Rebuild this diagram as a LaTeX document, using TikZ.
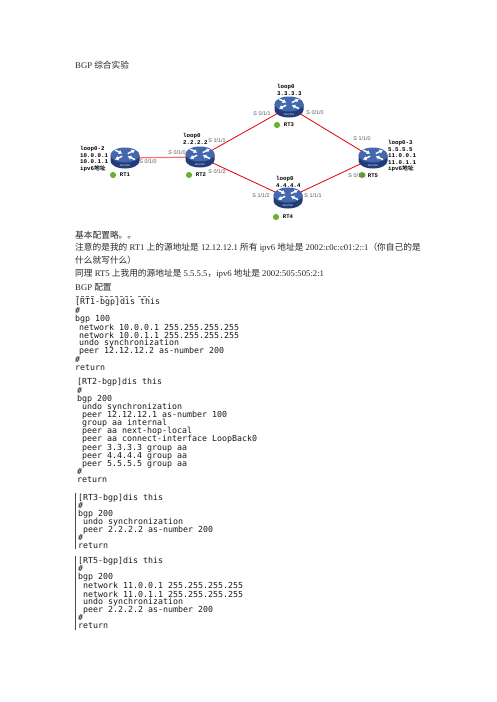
\documentclass[tikz,border=0pt]{standalone}
\usepackage{fontspec}
\usetikzlibrary{arrows.meta}
\setmainfont{Liberation Serif}
\newfontfamily\cjkf{Noto Sans CJK SC}
\newfontfamily\cjkb{Noto Sans CJK SC}[BoldFont={Noto Sans CJK SC Bold}]
\newfontfamily\monof{DejaVu Sans Mono}
\newfontfamily\labf{Liberation Mono}
\newfontfamily\sanf{Liberation Sans}
\newcommand{\zh}[1]{{\cjkf #1}}
\definecolor{rblue}{HTML}{4468B0}
\definecolor{rdark}{HTML}{223C7A}
\definecolor{rgreen}{HTML}{66B32E}
\tikzset{
  x=1pt,y=-1pt,
  body/.style={anchor=west,inner sep=0pt,font=\fontsize{8.7}{10}\selectfont,text=black!85},
  code/.style={anchor=west,inner sep=0pt,font=\monof\fontsize{8.3}{8.3}\selectfont,text=black!90},
  iface/.style={anchor=center,inner sep=0pt,font=\sanf\fontsize{5.4}{6}\selectfont,text=black!65},
  loop/.style={anchor=west,inner sep=0pt,font=\labf\bfseries\fontsize{5.8}{6}\selectfont},
  rtname/.style={anchor=center,inner sep=0pt,font=\labf\bfseries\fontsize{5.6}{6}\selectfont},
  link/.style={draw=red!90!black,line width=0.8pt},
  softlink/.style={draw=red!55,line width=1.2pt},
  dot/.style={circle,inner sep=0pt,minimum size=6.2pt,fill=rgreen},
  rail/.style={draw=black!70,line width=0.7pt},
  hub/.style={inner sep=0pt,minimum size=0pt},
  rarrow/.style={white,line width=1.5pt,-{Latex[length=3.4pt,width=4.6pt]}},
}
\newcommand{\router}[1]{%
  \begin{scope}[shift={(#1)}]
    \fill[rdark] (-14.5,-3) -- (-14.5,3) arc[x radius=14.5,y radius=7.5,start angle=180,end angle=0] -- (14.5,-3) -- cycle;
    \fill[rblue] (0,-3) ellipse[x radius=14.5,y radius=7.5];
    \draw[rarrow] (-10,-8) -- (-2.8,-4.4);
    \draw[rarrow] (10,1.6) -- (2.8,-1.8);
    \draw[rarrow] (-2.8,-1.8) -- (-10,1.6);
    \draw[rarrow] (2.8,-4.4) -- (10,-8);
    \node[inner sep=0pt,text=white,font=\sanf\fontsize{2.4}{3}\selectfont] at (0,7.4) {ROUTER};
  \end{scope}}
\begin{document}
\begin{tikzpicture}
\useasboundingbox (0,0) rectangle (496,702);
\fill[white] (0,0) rectangle (496,702);
% hubs
\node[hub] (rt1) at (125,158) {};
\node[hub] (rt2) at (200,157) {};
\node[hub] (rt3) at (289,107) {};
\node[hub] (rt4) at (288,198) {};
\node[hub] (rt5) at (373,158) {};
% links
\draw[softlink] (rt1) -- (rt2);
\draw[link] (rt2) -- (rt3);
\draw[link] (rt2) -- (rt4);
\draw[link] (rt3) -- (rt5);
\draw[link] (rt4) -- (rt5);
% routers
\router{rt1}\router{rt2}\router{rt3}\router{rt4}\router{rt5}
% status
\node[dot] (d1) at (113,175) {};
\node[dot] (d2) at (189,175) {};
\node[dot] (d3) at (277,125) {};
\node[dot] (d4) at (276,217) {};
\node[dot] (d5) at (362,175) {};
\node[rtname] (n1) at (125,175) {RT1};
\node[rtname] (n2) at (201,175) {RT2};
\node[rtname] (n3) at (289,125) {RT3};
\node[rtname] (n4) at (288,217) {RT4};
\node[rtname] (n5) at (373,176) {RT5};
% interface labels
\node[iface] (i1) at (148,162) {S 0/1/0};
\node[iface] (i2) at (177,153) {S 0/1/0};
\node[iface] (i3) at (217,141) {S 1/1/1};
\node[iface] (i4) at (217,172) {S 0/1/2};
\node[iface] (i5) at (262,114) {S 0/1/1};
\node[iface] (i6) at (261,196) {S 1/1/2};
\node[iface] (i7) at (315,113) {S 0/1/0};
\node[iface] (i8) at (362,139) {S 1/1/0};
\node[iface] (i9) at (357,176) {S 0/1/0};
\node[iface] (i10) at (313,196) {S 1/1/1};
% loopback labels
\node[loop] (a1) at (80,149) {loop0-2};
\node[loop] (a2) at (80,155.5) {10.0.0.1};
\node[loop] (a3) at (80,162) {10.0.1.1};
\node[loop] (a4) at (80,168.5) {ipv6{\cjkb\bfseries 地址}};
\node[loop] (b1) at (183,136) {loop0};
\node[loop] (b2) at (183,143) {2.2.2.2};
\node[loop] (c1) at (277,87) {loop0};
\node[loop] (c2) at (277,93.5) {3.3.3.3};
\node[loop] (e1) at (276,179) {loop0};
\node[loop] (e2) at (276,186) {4.4.4.4};
\node[loop] (f1) at (388,143) {loop0-3};
\node[loop] (f2) at (388,150) {5.5.5.5};
\node[loop] (f3) at (388,156) {11.0.0.1};
\node[loop] (f4) at (388,162.5) {11.0.1.1};
\node[loop] (f5) at (388,169) {ipv6{\cjkb\bfseries 地址}};
% body text
\node[body] (t0) at (75,65) {BGP \zh{综合实验}};
\node[body] (t1) at (75,235) {\zh{基本配置略。。}};
\node[body] (t2) at (75,248) {\zh{注意的是我的} RT1 \zh{上的源地址是} 12.12.12.1 \zh{所有} ipv6 \zh{地址是} 2002:c0c:c01:2::1\zh{（你自己的是}};
\node[body] (t3) at (75,260.5) {\zh{什么就写什么）}};
\node[body] (t4) at (75,274) {\zh{同理} RT5 \zh{上我用的源地址是} 5.5.5.5\zh{，}ipv6 \zh{地址是} 2002:505:505:2:1};
\node[body] (t5) at (75,287) {BGP \zh{配置}};
% cut-off line at the top of the first screenshot
\draw[black!55,line width=0.5pt,dash pattern=on 3pt off 2pt] (76,295.8) -- (94,295.8);
\draw[black!55,line width=0.5pt,dash pattern=on 3pt off 2pt] (100,295.8) -- (132,295.8);
\draw[black!55,line width=0.5pt,dash pattern=on 3pt off 2pt] (138,295.8) -- (150,295.8);
% RT1
\node[code] (r11) at (75,302) {[RT1-bgp]dis this};
\node[code] (r12) at (75,310.5) {\#};
\node[code] (r13) at (75,319) {bgp 100};
\node[code] (r14) at (79,327) {network 10.0.0.1 255.255.255.255};
\node[code] (r15) at (79,335) {network 10.0.1.1 255.255.255.255};
\node[code] (r16) at (79,343) {undo synchronization};
\node[code] (r17) at (79,351) {peer 12.12.12.2 as-number 200};
\node[code] (r18) at (75,359.5) {\#};
\node[code] (r19) at (75,368) {return};
% RT2
\node[code] (r21) at (77,382) {[RT2-bgp]dis this};
\node[code] (r22) at (77,390.5) {\#};
\node[code] (r23) at (77,399) {bgp 200};
\node[code] (r24) at (82,407) {undo synchronization};
\node[code] (r25) at (82,415) {peer 12.12.12.1 as-number 100};
\node[code] (r26) at (82,423) {group aa internal};
\node[code] (r27) at (82,431) {peer aa next-hop-local};
\node[code] (r28) at (82,439) {peer aa connect-interface LoopBack0};
\node[code] (r29) at (82,448) {peer 3.3.3.3 group aa};
\node[code] (r210) at (82,456) {peer 4.4.4.4 group aa};
\node[code] (r211) at (82,464) {peer 5.5.5.5 group aa};
\node[code] (r212) at (77,472) {\#};
\node[code] (r213) at (77,480) {return};
% RT3
\draw[rail] (75.5,493) -- (75.5,549);
\node[code] (r31) at (78,498) {[RT3-bgp]dis this};
\node[code] (r32) at (78,506) {\#};
\node[code] (r33) at (78,514) {bgp 200};
\node[code] (r34) at (83,522) {undo synchronization};
\node[code] (r35) at (83,530) {peer 2.2.2.2 as-number 200};
\node[code] (r36) at (78,538) {\#};
\node[code] (r37) at (78,546) {return};
% RT5
\draw[rail] (75.5,556) -- (75.5,630);
\node[code] (r51) at (78,561) {[RT5-bgp]dis this};
\node[code] (r52) at (78,569) {\#};
\node[code] (r53) at (78,577) {bgp 200};
\node[code] (r54) at (83,585) {network 11.0.0.1 255.255.255.255};
\node[code] (r55) at (83,594) {network 11.0.1.1 255.255.255.255};
\node[code] (r56) at (83,602) {undo synchronization};
\node[code] (r57) at (83,610) {peer 2.2.2.2 as-number 200};
\node[code] (r58) at (78,618) {\#};
\node[code] (r59) at (78,626) {return};
\end{tikzpicture}
\end{document}
